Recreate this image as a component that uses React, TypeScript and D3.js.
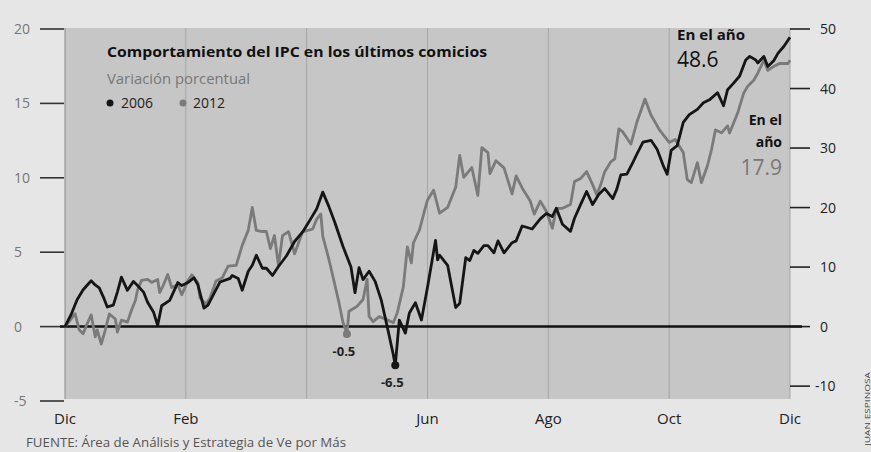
import React from "react";
import * as d3 from "d3";

// Days since the start of December (30-day months, 0..360)
const days2006 = [0, 3, 6, 9, 13, 15, 17, 19, 21, 24, 26, 28, 31, 34, 36, 39, 41, 44, 46, 48, 52, 56, 58, 61, 64, 66, 69, 71, 74, 77, 82, 83, 86, 88, 91, 93, 95, 98, 100, 103, 106, 110, 114, 118, 122, 125, 128, 131, 134, 138, 142, 144, 146, 148, 151, 154, 157, 160, 163, 164, 166, 169, 171, 174, 177, 180, 184, 185, 186, 190, 194, 196, 199, 201, 203, 205, 208, 210, 213, 215, 218, 222, 224, 227, 232, 236, 239, 242, 244, 247, 251, 253, 256, 259, 262, 265, 268, 272, 274, 276, 279, 282, 284, 287, 291, 294, 297, 299, 301, 304, 307, 310, 314, 317, 320, 324, 327, 329, 332, 335, 338, 340, 343, 344, 347, 349, 352, 354, 357, 360];
const values2006 = [0, 2.0, 4.5, 6.2, 7.7, 7.0, 6.5, 5.0, 3.3, 3.6, 5.8, 8.3, 6.1, 7.6, 6.9, 5.8, 4.1, 2.4, 0.2, 3.5, 4.4, 7.4, 6.9, 7.4, 8.2, 7.0, 3.1, 3.6, 5.6, 7.5, 8.1, 8.6, 8.1, 6.1, 9.3, 10.3, 12.0, 9.8, 9.8, 8.6, 10.1, 11.9, 14.3, 15.9, 18.1, 19.8, 22.6, 20.2, 17.5, 13.5, 10.0, 5.7, 9.9, 7.9, 9.3, 7.6, 4.5, 0.0, -4.7, -6.5, 1.1, -1.1, 2.3, 4.0, 1.1, 6.6, 14.5, 11.2, 12.0, 10.3, 3.2, 3.9, 11.6, 11.1, 12.8, 12.3, 13.6, 13.6, 12.4, 14.4, 12.4, 14.1, 14.4, 16.9, 16.4, 18.1, 19.0, 18.5, 19.9, 17.2, 16.0, 18.2, 20.5, 22.7, 20.5, 22.2, 23.2, 21.5, 23.1, 25.5, 25.6, 27.6, 29.0, 31.0, 31.3, 29.8, 27.1, 25.6, 29.6, 30.4, 34.3, 35.6, 36.5, 37.6, 38.1, 39.3, 37.1, 39.8, 40.9, 42.1, 44.8, 45.4, 44.8, 44.3, 45.4, 43.7, 44.7, 45.9, 47.1, 48.6];

const days2012 = [0, 2, 5, 7, 9, 11, 13, 15, 16, 18, 20, 22, 25, 26, 28, 31, 33, 35, 36, 38, 41, 43, 46, 47, 49, 51, 53, 56, 58, 61, 63, 66, 67, 70, 72, 75, 78, 81, 85, 88, 91, 93, 95, 98, 100, 102, 104, 106, 108, 111, 113, 114, 118, 123, 125, 127, 128, 131, 133, 136, 138, 140, 141, 145, 148, 150, 151, 153, 156, 160, 163, 165, 168, 170, 172, 173, 176, 179, 180, 183, 186, 190, 194, 196, 198, 202, 205, 207, 210, 211, 214, 218, 222, 224, 227, 231, 233, 236, 239, 242, 244, 247, 251, 253, 256, 259, 262, 264, 266, 268, 271, 273, 275, 277, 281, 284, 288, 291, 295, 300, 303, 307, 309, 311, 314, 316, 319, 321, 323, 326, 329, 330, 334, 337, 339, 342, 344, 347, 349, 352, 355, 359, 360];
const values2012 = [0, 0.33, 0.87, -0.21, -0.48, 0.19, 0.79, -0.69, -0.22, -1.17, -0.23, 0.85, 0.51, -0.37, 0.43, 0.3, 1.1, 1.77, 2.44, 3.11, 3.17, 2.97, 3.17, 2.29, 2.83, 3.5, 2.62, 2.82, 2.14, 3.08, 3.48, 2.94, 1.93, 1.52, 1.92, 3.06, 3.26, 4.06, 4.12, 5.46, 6.47, 8.01, 6.46, 6.39, 6.39, 5.24, 6.12, 4.1, 6.11, 6.38, 5.43, 4.89, 6.37, 6.56, 7.23, 7.57, 6.08, 4.54, 3.39, 1.64, 0.29, -0.5, 1.03, 1.36, 1.82, 3.17, 0.68, 0.34, 0.67, 0.46, 0.26, 0.93, 2.67, 5.36, 4.28, 5.62, 6.49, 8.03, 8.5, 9.17, 7.62, 8.02, 9.36, 11.51, 10.03, 10.69, 8.81, 12.03, 11.69, 10.28, 11.15, 10.67, 8.92, 10.13, 9.32, 8.44, 7.56, 8.43, 7.75, 6.61, 7.95, 7.95, 8.21, 9.75, 9.95, 10.42, 9.54, 8.87, 9.53, 10.41, 11.07, 11.27, 13.29, 13.08, 12.27, 13.75, 15.29, 14.21, 13.26, 12.38, 12.58, 11.7, 9.88, 9.68, 11.02, 9.67, 10.81, 11.88, 13.22, 13.02, 13.49, 13.01, 14.35, 15.69, 16.16, 16.56, 17.03, 17.9, 17.22, 17.49, 17.69, 17.68, 17.9];

// points marked on the chart (day of each low)
const markDay2006 = 164;
const markDay2012 = 140;

const monthTicks = [0, 60, 120, 180, 240, 300, 360];
const monthLabels = ["Dic", "Feb", "", "Jun", "Ago", "Oct", "Dic"];
const leftTicks = [-5, 0, 5, 10, 15, 20];
const rightTicks = [-10, 0, 10, 20, 30, 40, 50];

const W = 871;
const H = 452;
const plot = { left: 65, right: 790, top: 28, bottom: 399 };
const font = "'Open Sans', 'DejaVu Sans', sans-serif";

export default function App() {
  const x = d3.scaleLinear().domain([0, 360]).range([plot.left, plot.right]);
  // 2012 reads on the left axis, 2006 on the right one
  const yL = d3.scaleLinear().domain([-5, 20]).range([401, 29]);
  const yR = d3.scaleLinear().domain([-12.5, 50]).range([401, 29]);

  const s2006 = days2006.map((d, i) => ({ d, v: values2006[i] }));
  const s2012 = days2012.map((d, i) => ({ d, v: values2012[i] }));

  const line2006 = d3
    .line<{ d: number; v: number }>()
    .x((p) => x(p.d))
    .y((p) => yR(p.v));
  const line2012 = d3
    .line<{ d: number; v: number }>()
    .x((p) => x(p.d))
    .y((p) => yL(p.v));

  const mark2006 = s2006.find((p) => p.d === markDay2006)!;
  const mark2012 = s2012.find((p) => p.d === markDay2012)!;

  return (
    <svg
      width={W}
      height={H}
      style={{ position: "absolute", left: 0, top: 0, background: "#e6e6e6" }}
      fontFamily={font}
    >
      <rect
        x={plot.left}
        y={plot.top}
        width={plot.right - plot.left}
        height={plot.bottom - plot.top}
        fill="#c6c6c6"
      />

      {/* vertical month lines */}
      {monthTicks.map((t) => (
        <line
          key={t}
          x1={x(t)}
          x2={x(t)}
          y1={plot.top}
          y2={plot.bottom}
          stroke={t === 0 ? "#8a8a8a" : "#a5a5a5"}
          strokeWidth={1}
        />
      ))}

      {/* left axis */}
      {leftTicks.map((t) => (
        <g key={t}>
          <line x1={40} x2={64} y1={yL(t)} y2={yL(t)} stroke="#333" strokeWidth={1.6} />
          <text x={14} y={yL(t) + 5} fontSize={14} fill="#777">
            {t}
          </text>
        </g>
      ))}

      {/* right axis */}
      {rightTicks.map((t) => (
        <g key={t}>
          <line x1={790} x2={810} y1={yR(t)} y2={yR(t)} stroke="#222" strokeWidth={1.6} />
          <text x={t < 0 ? 815 : 820} y={yR(t) + 5} fontSize={14} fill="#222">
            {t}
          </text>
        </g>
      ))}

      {/* month labels */}
      {monthTicks.map((t, i) => (
        <text key={t} x={x(t)} y={424} fontSize={15} fill="#222" textAnchor="middle">
          {monthLabels[i]}
        </text>
      ))}

      {/* zero line */}
      <line x1={60} x2={802} y1={yL(0)} y2={yL(0)} stroke="#111" strokeWidth={2.5} />

      <path d={line2012(s2012) ?? ""} fill="none" stroke="#7a7a7a" strokeWidth={2.8} strokeLinejoin="round" />
      <path d={line2006(s2006) ?? ""} fill="none" stroke="#151515" strokeWidth={2.8} strokeLinejoin="round" />

      {/* marked lows */}
      <circle cx={x(mark2012.d)} cy={yL(mark2012.v)} r={4} fill="#7a7a7a" />
      <text x={x(mark2012.d) - 3} y={yL(mark2012.v) + 22} fontSize={13} fontWeight="bold" fill="#222" textAnchor="middle">
        {mark2012.v.toFixed(1)}
      </text>
      <circle cx={x(mark2006.d)} cy={yR(mark2006.v)} r={4} fill="#151515" />
      <text x={x(mark2006.d) - 3} y={yR(mark2006.v) + 22} fontSize={13} fontWeight="bold" fill="#222" textAnchor="middle">
        {mark2006.v.toFixed(1)}
      </text>

      {/* title and legend */}
      <text x={107} y={57} fontSize={15} fontWeight="bold" fill="#111" textLength={380} lengthAdjust="spacingAndGlyphs">
        Comportamiento del IPC en los últimos comicios
      </text>
      <text x={107} y={84} fontSize={14} fill="#777" textLength={143} lengthAdjust="spacingAndGlyphs">
        Variación porcentual
      </text>
      <circle cx={110} cy={103} r={3.5} fill="#151515" />
      <text x={121} y={108} fontSize={14} fill="#222">
        2006
      </text>
      <circle cx={183} cy={103} r={3.5} fill="#7a7a7a" />
      <text x={193} y={108} fontSize={14} fill="#222">
        2012
      </text>

      {/* end-of-year labels */}
      <text x={677} y={40} fontSize={14} fontWeight="bold" fill="#111" textLength={68} lengthAdjust="spacingAndGlyphs">
        En el año
      </text>
      <text x={677} y={67} fontSize={21} fill="#111">
        {values2006[values2006.length - 1].toFixed(1)}
      </text>
      <text x={782} y={125} fontSize={14} fontWeight="bold" fill="#111" textAnchor="end">
        En el
      </text>
      <text x={782} y={147} fontSize={14} fontWeight="bold" fill="#111" textAnchor="end">
        año
      </text>
      <text x={782} y={175} fontSize={21} fill="#777" textAnchor="end">
        {values2012[values2012.length - 1].toFixed(1)}
      </text>

      {/* source and credit */}
      <text x={26} y={447} fontSize={12} fill="#555" textLength={320} lengthAdjust="spacingAndGlyphs">
        FUENTE: Área de Análisis y Estrategia de Ve por Más
      </text>
      <text
        transform="translate(870,446) rotate(-90)"
        fontSize={8}
        fill="#444"
        textLength={74}
        lengthAdjust="spacingAndGlyphs"
      >
        JUAN ESPINOSA
      </text>
    </svg>
  );
}
